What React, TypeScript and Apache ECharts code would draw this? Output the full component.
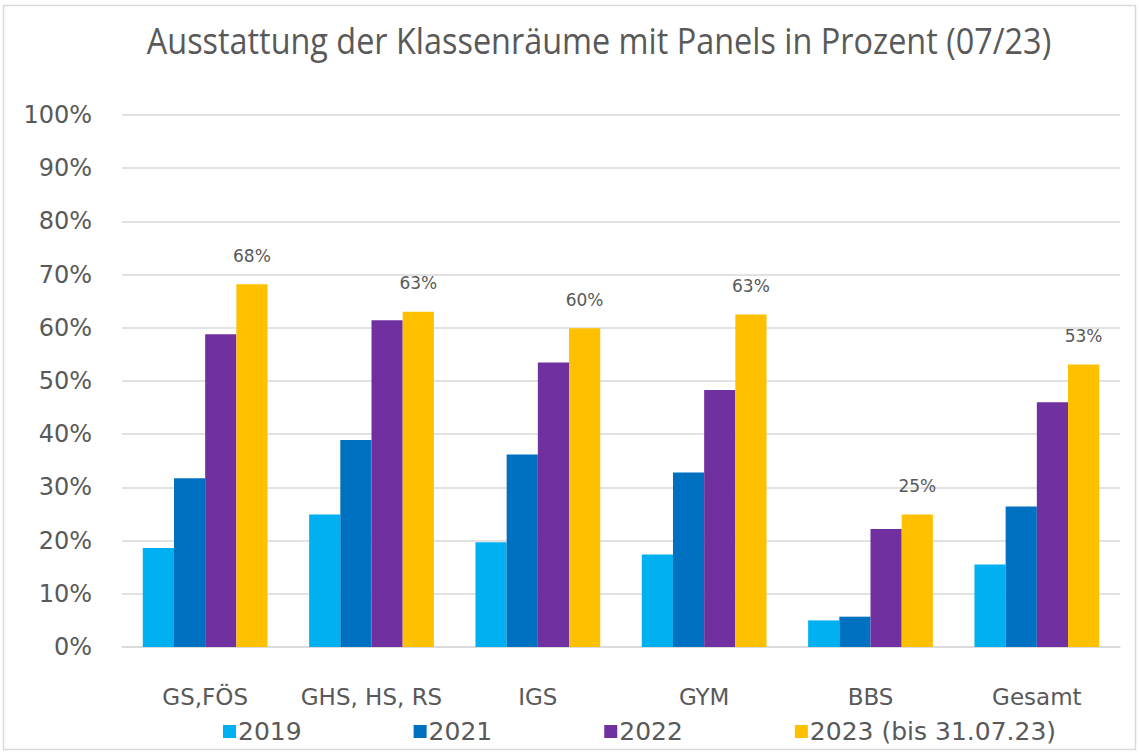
import React, { useEffect, useRef } from "react";
import * as echarts from "echarts";

const categories = ["GS,FÖS", "GHS, HS, RS", "IGS", "GYM", "BBS", "Gesamt"];
const seriesNames = ["2019", "2021", "2022", "2023 (bis 31.07.23)"];
const v2019 = [18.6, 24.9, 19.7, 17.4, 5.0, 15.5];
const v2021 = [31.7, 38.9, 36.2, 32.8, 5.7, 26.4];
const v2022 = [58.8, 61.4, 53.5, 48.3, 22.2, 46.0];
const v2023 = [68.2, 63.0, 59.9, 62.5, 24.9, 53.1];
const colors = ["#00B0F0", "#0070C0", "#7030A0", "#FFC000"];
const titleText = "Ausstattung der Klassenräume mit Panels in Prozent (07/23)";

const textColor = "#595959";
const font = "'DejaVu Sans', sans-serif";

export default function App() {
  const ref = useRef<HTMLDivElement>(null);
  useEffect(() => {
    if (!ref.current) return;
    const chart = echarts.init(ref.current, undefined, { renderer: "svg" });
    const values = [v2019, v2021, v2022, v2023];
    chart.setOption({
      animation: false,
      backgroundColor: "#ffffff",
      graphic: [
        {
          type: "rect",
          shape: { x: 3.5, y: 5.5, width: 1132, height: 744 },
          style: { fill: "none", stroke: "#d9d9d9", lineWidth: 1.5 },
          silent: true,
        },
        {
          type: "text",
          x: 599,
          y: 40,
          scaleX: 0.9,
          style: {
            text: titleText,
            fill: textColor,
            fontSize: 36,
            fontFamily: "'Open Sans', sans-serif",
            align: "center",
            verticalAlign: "middle",
          },
          silent: true,
        },
      ],
      grid: { left: 122, right: 19, top: 115, bottom: 106 },
      legend: {
        bottom: 4,
        left: 218,
        itemWidth: 13,
        itemHeight: 13,
        itemGap: 112,
        icon: "rect",
        textStyle: { color: textColor, fontSize: 25, fontFamily: font, padding: [0, 0, 0, -3] },
        data: seriesNames,
      },
      xAxis: {
        type: "category",
        data: categories,
        axisLine: { lineStyle: { color: "#d9d9d9", width: 1.5 } },
        axisTick: { show: false },
        axisLabel: {
          color: textColor,
          fontSize: 23,
          fontFamily: font,
          margin: 38,
          interval: 0,
          hideOverlap: false,
        },
      },
      yAxis: {
        type: "value",
        min: 0,
        max: 100,
        interval: 10,
        axisLine: { show: false },
        axisTick: { show: false },
        splitLine: { lineStyle: { color: "#d9d9d9", width: 1.5 } },
        axisLabel: {
          color: textColor,
          fontSize: 24,
          fontFamily: font,
          margin: 30,
          formatter: (v: number) => `${v}%`,
        },
      },
      series: seriesNames.map((name, i) => ({
        name,
        type: "bar",
        data: values[i],
        barGap: "0%",
        barCategoryGap: "25%",
        itemStyle: { color: colors[i] },
        label:
          i === 3
            ? {
                show: true,
                position: "top",
                distance: 20,
                color: textColor,
                fontSize: 17,
                fontFamily: font,
                formatter: (p: any) => `${Math.round(p.value)}%`,
              }
            : { show: false },
      })),
    });
    return () => chart.dispose();
  }, []);
  return (
    <div
      ref={ref}
      style={{ position: "absolute", left: 0, top: 0, width: 1139, height: 753 }}
    />
  );
}
